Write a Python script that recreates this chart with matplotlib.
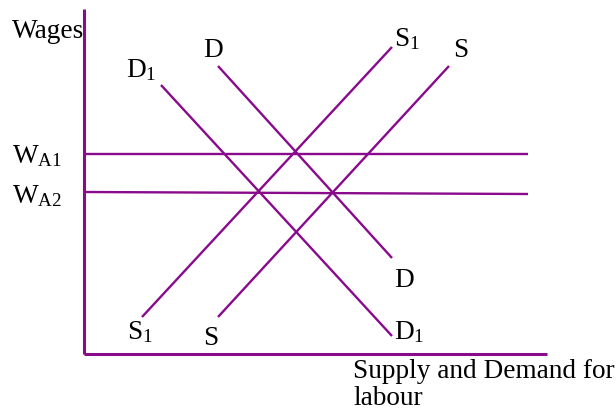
import matplotlib
matplotlib.use("Agg")
import matplotlib.pyplot as plt

plt.rcParams['font.family'] = ['Liberation Serif', 'DejaVu Serif']
plt.rcParams['mathtext.fontset'] = 'custom'
plt.rcParams['mathtext.rm'] = 'Liberation Serif'
plt.rcParams['mathtext.it'] = 'Liberation Serif:italic'

purple = '#8a0a8c'

# curve end points (quantity, wage), origin at the axis corner
d_x = [134, 308]
d_y = [288, 96]
d1_x = [77, 308]
d1_y = [269, 18]
s1_x = [58, 308]
s1_y = [37, 307]
s_x = [134, 365]
s_y = [37, 288]
wa1_x = [0, 444]
wa1_y = [200, 200]
wa2_x = [0, 444]
wa2_y = [162, 160]

# labels: (text, x, y) in the same units
labels = [
    ('Wages', -72, 316),
    ('D', 119, 297),
    (r'D$_\mathrm{1}$', 42, 277),
    (r'S$_\mathrm{1}$', 310, 308),
    ('S', 369, 297),
    (r'W$_\mathrm{A1}$', -72, 191),
    (r'W$_\mathrm{A2}$', -72, 151),
    ('D', 310, 67),
    (r'D$_\mathrm{1}$', 310, 15),
    (r'S$_\mathrm{1}$', 43, 15),
    ('S', 119, 9),
    ('Supply and Demand for', 269, -24),
    ('labour', 269, -51),
]

fig = plt.figure(figsize=(6.16, 4.17), dpi=100)
ax = fig.add_axes([0, 0, 1, 1])
ax.set_xlim(-84, 532)
ax.set_ylim(-63, 354)
ax.axis('off')

# axes
ax.plot([0, 0], [0, 345], color=purple, lw=2.2, solid_capstyle='butt')
ax.plot([0, 463], [0, 0], color=purple, lw=2.2, solid_capstyle='butt')

for xs, ys in [(d_x, d_y), (d1_x, d1_y), (s1_x, s1_y), (s_x, s_y),
               (wa1_x, wa1_y), (wa2_x, wa2_y)]:
    ax.plot(xs, ys, color=purple, lw=1.7, solid_capstyle='butt')

for t, x, y in labels:
    ax.text(x, y, t, fontsize=19.6, ha='left', va='baseline', color='black')

fig.savefig('out.png', dpi=100)
